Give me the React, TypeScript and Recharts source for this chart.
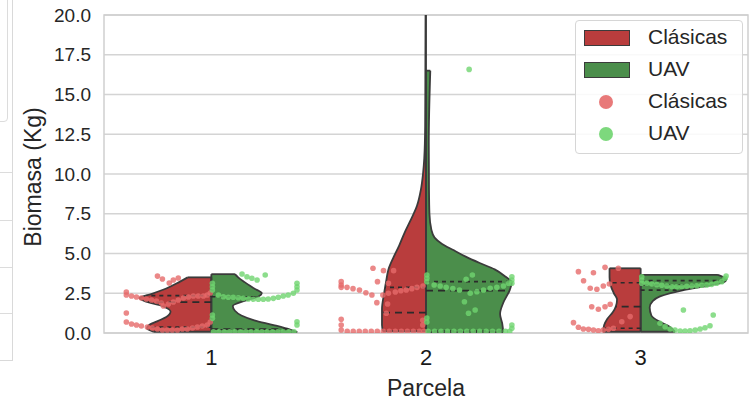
import React from 'react';
import {
  ComposedChart,
  Area,
  Scatter,
  XAxis,
  YAxis,
  CartesianGrid,
  ReferenceLine,
  ReferenceArea,
  Legend,
  Label
} from 'recharts';

const FONT = '"Liberation Sans", Arial, sans-serif';

// Categories and labels
const parcelas = [0, 1, 2];
const etiquetasParcela = ['1', '2', '3'];
const series = ['Clásicas', 'UAV'];
const ticksBiomasa = [0, 2.5, 5, 7.5, 10, 12.5, 15, 17.5, 20];

// Violin half profiles: [biomasa, half width in category units]
const densidadClasicas: number[][][] = [
  [[0.08, 0.27], [0.3, 0.3], [0.5, 0.29], [0.75, 0.25], [1.0, 0.21], [1.35, 0.19], [1.7, 0.23], [2.0, 0.31], [2.2, 0.335], [2.45, 0.28], [2.8, 0.21], [3.2, 0.15], [3.5, 0.11]],
  [[0.1, 0.2], [0.5, 0.205], [1.5, 0.205], [2.5, 0.195], [3.3, 0.185], [4.0, 0.175], [4.8, 0.15], [5.5, 0.125], [6.3, 0.1], [7.0, 0.075], [8.0, 0.042], [9.0, 0.024], [10, 0.014], [11, 0.008], [13, 0.004], [16, 0.003], [21, 0.002]],
  [[0.08, 0.175], [0.5, 0.17], [0.9, 0.155], [1.3, 0.13], [1.7, 0.115], [2.1, 0.11], [2.5, 0.125], [3.0, 0.14], [3.5, 0.145], [4.07, 0.145]]
];
const densidadUAV: number[][][] = [
  [[0.05, 0.4], [0.2, 0.37], [0.5, 0.29], [0.8, 0.2], [1.1, 0.14], [1.4, 0.11], [1.7, 0.1], [2.0, 0.15], [2.3, 0.22], [2.5, 0.235], [2.8, 0.2], [3.2, 0.155], [3.5, 0.125], [3.7, 0.11]],
  [[0.05, 0.36], [0.6, 0.355], [1.2, 0.345], [1.9, 0.36], [2.7, 0.39], [3.2, 0.4], [3.55, 0.37], [4.0, 0.32], [4.4, 0.25], [4.8, 0.185], [5.2, 0.13], [5.6, 0.075], [6.0, 0.04], [6.5, 0.025], [7.5, 0.016], [9, 0.014], [12, 0.013], [16.5, 0.02]],
  [[0.08, 0.16], [0.4, 0.135], [0.7, 0.09], [1.1, 0.05], [1.6, 0.042], [2.0, 0.056], [2.3, 0.09], [2.7, 0.2], [3.0, 0.325], [3.2, 0.39], [3.4, 0.4], [3.55, 0.38], [3.65, 0.36]]
];

// Q1, median, Q3
const cuartilesClasicas = [[0.37, 1.94, 2.35], [0.12, 1.28, 2.87], [0.3, 1.66, 3.16]];
const cuartilesUAV = [[0.2, 0.25, 2.28], [0.12, 2.66, 3.23], [2.7, 3.02, 3.29]];

// Swarm points: [x position, biomasa]
const puntosClasicas = [
  [-0.396, 2.58], [-0.396, 2.39], [-0.372, 2.33], [-0.349, 2.26], [-0.326, 2.2], [-0.303, 2.14], [-0.279, 2.08], [-0.256, 2.01], [-0.233, 1.89],
  [-0.223, 1.7], [-0.2, 1.82], [-0.177, 1.95], [-0.154, 2.08], [-0.13, 2.2], [-0.107, 2.26], [-0.084, 2.33], [-0.061, 2.33], [-0.037, 2.33], [-0.019, 2.39], [-0.005, 2.52],
  [-0.251, 3.58], [-0.228, 3.4], [-0.196, 3.14], [-0.177, 3.33], [-0.154, 3.46],
  [-0.396, 1.26], [-0.396, 0.69],
  [-0.372, 0.57], [-0.349, 0.5], [-0.326, 0.44], [-0.298, 0.38], [-0.275, 0.31], [-0.251, 0.25], [-0.228, 0.19], [-0.205, 0.19], [-0.182, 0.19], [-0.158, 0.19],
  [-0.135, 0.25], [-0.112, 0.25], [-0.088, 0.31], [-0.065, 0.38], [-0.042, 0.44], [-0.019, 0.5], [-0.005, 0.69],
  [0.753, 4.07], [0.802, 3.92], [0.849, 3.92], [0.774, 3.23], [0.825, 3.13],
  [0.605, 3.23], [0.605, 3.02], [0.605, 2.87],
  [0.632, 2.87], [0.66, 2.79], [0.69, 2.7], [0.72, 2.53], [0.748, 2.39],
  [0.799, 2.39], [0.825, 2.5], [0.857, 2.58], [0.883, 2.66], [0.908, 2.7], [0.934, 2.79], [0.958, 2.87], [0.986, 2.96],
  [0.771, 1.91], [0.821, 1.82], [0.815, 1.24],
  [0.605, 0.86], [0.605, 0.5], [0.605, 0.19],
  [0.633, 0.1], [0.661, 0.1], [0.689, 0.1], [0.717, 0.1], [0.745, 0.1], [0.773, 0.1], [0.801, 0.1], [0.829, 0.1], [0.857, 0.1], [0.885, 0.1],
  [0.913, 0.1], [0.941, 0.1], [0.969, 0.1], [0.99, 0.1], [0.985, 0.5], [0.985, 0.8],
  [1.71, 3.86], [1.78, 3.79], [1.834, 4.13], [1.896, 4.07], [1.734, 3.29], [1.765, 2.81], [1.796, 2.75], [1.826, 2.96], [1.854, 3.08],
  [1.772, 1.65], [1.803, 1.49], [1.834, 1.65], [1.858, 1.81],
  [1.687, 0.65], [1.71, 0.36], [1.733, 0.25], [1.757, 0.23], [1.78, 0.19], [1.803, 0.14], [1.826, 0.19], [1.85, 0.23], [1.873, 0.3], [1.912, 0.71], [1.951, 1.03]
];
const puntosUAV = [
  [0.143, 3.71], [0.166, 3.54], [0.189, 3.44], [0.213, 3.33], [0.251, 3.65],
  [0.033, 2.39], [0.056, 2.28], [0.079, 2.25], [0.102, 2.25], [0.126, 2.22], [0.149, 2.18], [0.172, 2.14], [0.196, 2.12], [0.219, 2.12], [0.242, 2.12],
  [0.265, 2.14], [0.289, 2.18], [0.312, 2.25], [0.335, 2.33], [0.358, 2.39], [0.382, 2.5],
  [0.399, 3.13], [0.399, 2.91], [0.399, 2.7],
  [0.005, 3.13], [0.005, 2.91], [0.005, 2.7], [0.005, 1.13], [0.005, 0.92],
  [0.01, 0.08], [0.035, 0.08], [0.06, 0.08], [0.085, 0.08], [0.11, 0.08], [0.135, 0.08], [0.16, 0.08], [0.185, 0.08],
  [0.21, 0.08], [0.235, 0.08], [0.26, 0.08], [0.285, 0.08], [0.31, 0.08], [0.335, 0.08], [0.36, 0.08], [0.385, 0.08],
  [0.399, 0.71], [0.399, 0.5],
  [1.201, 16.58],
  [1.004, 3.65], [1.004, 3.44], [1.004, 3.23],
  [1.038, 3.02], [1.066, 2.96], [1.094, 2.87], [1.125, 2.79], [1.156, 2.7], [1.206, 2.5], [1.237, 2.6], [1.268, 2.7], [1.299, 2.81], [1.33, 2.87], [1.361, 2.96], [1.384, 3.13],
  [1.4, 3.54], [1.4, 3.33], [1.4, 3.13],
  [1.187, 3.38], [1.216, 3.65], [1.179, 1.97], [1.198, 1.24], [1.229, 1.45],
  [1.01, 0.1], [1.04, 0.1], [1.07, 0.1], [1.1, 0.1], [1.13, 0.1], [1.16, 0.1], [1.19, 0.1], [1.22, 0.1], [1.25, 0.1], [1.28, 0.1], [1.31, 0.1], [1.34, 0.1], [1.37, 0.1], [1.39, 0.1],
  [1.4, 0.3], [1.4, 0.5], [1.004, 0.94], [1.004, 0.69],
  [2.005, 3.54], [2.005, 3.33], [2.005, 3.13],
  [2.028, 3.13], [2.052, 3.08], [2.075, 3.04], [2.098, 3.0], [2.122, 2.96], [2.145, 2.91], [2.168, 2.91], [2.191, 2.91], [2.215, 2.94],
  [2.238, 2.96], [2.261, 2.97], [2.284, 3.0], [2.308, 3.02], [2.331, 3.06], [2.354, 3.13], [2.378, 3.23], [2.393, 3.44], [2.398, 3.58],
  [2.199, 1.45], [2.338, 1.13],
  [2.09, 0.61], [2.114, 0.4], [2.137, 0.25], [2.16, 0.19], [2.184, 0.13], [2.207, 0.13], [2.23, 0.14], [2.254, 0.19], [2.277, 0.25], [2.3, 0.33], [2.323, 0.46]
];

const ROJO = '#b93d3d';
const VERDE = '#4b8e4b';
const PUNTO_ROJO = '#e66a6a';
const PUNTO_VERDE = '#6fd46f';
const BORDE = '#3b3b3b';

// half width of a violin at a given value
const anchoEn = (perfil: number[][], v: number) => {
  for (let k = 1; k < perfil.length; k++) {
    const [v0, w0] = perfil[k - 1];
    const [v1, w1] = perfil[k];
    if (v <= v1) {
      const t = v1 === v0 ? 0 : Math.max(0, (v - v0) / (v1 - v0));
      return w0 + (w1 - w0) * t;
    }
  }
  return perfil[perfil.length - 1][1];
};

// smooth outline of the density, plus the flat ends drawn as straight lines
const contorno = (centro: number, perfil: number[][], lado: number) =>
  perfil.map(([v, w]) => ({ x: centro + lado * w, y: v }));

const aPuntos = (lista: number[][]) => lista.map(([x, y]) => ({ x, y }));

const Punto = (color: string) => (props: any) => {
  const { cx, cy } = props;
  if (cx == null || cy == null) return null;
  return <circle cx={cx} cy={cy} r={2.8} fill={color} fillOpacity={0.8} />;
};

const Leyenda = () => {
  const filas = [
    { tipo: 'parche', color: ROJO, texto: series[0] },
    { tipo: 'parche', color: VERDE, texto: series[1] },
    { tipo: 'punto', color: PUNTO_ROJO, texto: series[0] },
    { tipo: 'punto', color: PUNTO_VERDE, texto: series[1] }
  ];
  return (
    <div
      style={{
        position: 'relative',
        boxSizing: 'border-box',
        width: 168,
        height: 134,
        border: '1px solid #d6d6d6',
        borderRadius: 4,
        background: 'rgba(255,255,255,0.85)',
        fontFamily: FONT,
        fontSize: 21,
        color: '#262626'
      }}
    >
      {filas.map((f, k) => (
        <React.Fragment key={k}>
          {f.tipo === 'parche' ? (
            <div
              style={{
                position: 'absolute',
                left: 8,
                top: 9 + k * 32,
                width: 46,
                height: 16,
                boxSizing: 'border-box',
                background: f.color,
                border: `1.5px solid ${BORDE}`
              }}
            />
          ) : (
            <div
              style={{
                position: 'absolute',
                left: 23,
                top: 10 + k * 32,
                width: 14,
                height: 14,
                borderRadius: 7,
                background: f.color,
                opacity: 0.9
              }}
            />
          )}
          <div style={{ position: 'absolute', left: 72, top: 4 + k * 32, lineHeight: '24px' }}>{f.texto}</div>
        </React.Fragment>
      ))}
    </div>
  );
};

const mitad = (i: number, perfil: number[][], lado: number, color: string, key: string) => {
  const abajo = perfil[0];
  const arriba = perfil[perfil.length - 1];
  return [
    <Area
      key={`a${key}`}
      data={contorno(i, perfil, lado)}
      dataKey="x"
      baseValue={i}
      type="monotone"
      fill={color}
      fillOpacity={1}
      stroke={BORDE}
      strokeWidth={1.8}
      dot={false}
      activeDot={false}
      isAnimationActive={false}
    />,
    <ReferenceLine key={`b${key}`} segment={[{ x: i, y: abajo[0] }, { x: i + lado * abajo[1], y: abajo[0] }]} stroke={BORDE} strokeWidth={1.8} />,
    <ReferenceLine key={`t${key}`} segment={[{ x: i, y: arriba[0] }, { x: i + lado * arriba[1], y: arriba[0] }]} stroke={BORDE} strokeWidth={1.8} />,
    <ReferenceLine key={`m${key}`} segment={[{ x: i, y: abajo[0] }, { x: i, y: Math.min(arriba[0], 20) }]} stroke={BORDE} strokeWidth={1.8} />
  ];
};

export default function App() {
  return (
    <div style={{ position: 'absolute', left: 0, top: 0, width: 751, height: 402, background: '#fff' }}>
      {/* remnants of a neighbouring figure at the left edge */}
      <div style={{ position: 'absolute', left: 0, top: 0, width: 12, height: 360, borderRight: '1.5px solid #d9d9d9', borderBottom: '1.5px solid #d9d9d9' }} />
      {[172, 220, 267, 313].map((t) => (
        <div key={t} style={{ position: 'absolute', left: 0, top: t, width: 12, height: 0, borderTop: '1.5px solid #dcdcdc' }} />
      ))}
      <div style={{ position: 'absolute', left: -6, top: -6, width: 12, height: 126, border: '1.5px solid #dcdcdc', borderRadius: 4 }} />

      <ComposedChart
        width={751}
        height={402}
        layout="vertical"
        margin={{ top: 15, right: 3, bottom: 0, left: 0 }}
        style={{ fontFamily: FONT }}
      >
        <CartesianGrid horizontal vertical={false} stroke="#d4d4d4" strokeWidth={1.4} />
        <XAxis
          type="number"
          dataKey="x"
          domain={[-0.5, 2.5]}
          allowDataOverflow
          ticks={parcelas}
          tickFormatter={(v: number) => etiquetasParcela[v] ?? ''}
          tick={{ fontSize: 22, fill: '#1a1a1a', fontFamily: FONT }}
          tickLine={false}
          axisLine={false}
          tickMargin={10}
          height={69}
          interval={0}
        >
          <Label
            content={(p: any) => {
              const vb = p.viewBox || { x: 104, width: 644 };
              return (
                <text x={vb.x + vb.width / 2} y={396} textAnchor="middle" fontSize={23} fill="#262626" fontFamily={FONT}>
                  Parcela
                </text>
              );
            }}
          />
        </XAxis>
        <YAxis
          type="number"
          dataKey="y"
          domain={[0, 20]}
          reversed
          allowDataOverflow
          ticks={ticksBiomasa}
          tickFormatter={(v: number) => v.toFixed(1)}
          tick={{ fontSize: 19, fill: '#262626', fontFamily: FONT }}
          tickLine={false}
          axisLine={false}
          tickMargin={7}
          width={104}
          interval={0}
        >
          <Label
            content={() => (
              <text transform="rotate(-90)" x={-177} y={41} textAnchor="middle" fontSize={23} fill="#262626" fontFamily={FONT}>
                Biomasa (Kg)
              </text>
            )}
          />
        </YAxis>

        <ReferenceArea x1={-0.5} x2={2.5} y1={0} y2={20} fill="none" stroke="#cfcfcf" strokeWidth={1.5} ifOverflow="visible" />

        {parcelas.map((i) => mitad(i, densidadClasicas[i], -1, ROJO, `c${i}`))}
        {parcelas.map((i) => mitad(i, densidadUAV[i], 1, VERDE, `u${i}`))}

        {parcelas.map((i) =>
          cuartilesClasicas[i].map((q, k) => (
            <ReferenceLine
              key={`qc${i}-${k}`}
              segment={[{ x: i, y: q }, { x: i - anchoEn(densidadClasicas[i], q), y: q }]}
              stroke="#2b2b2b"
              strokeWidth={1.7}
              strokeDasharray={k === 1 ? '7 5' : '4 4'}
            />
          ))
        )}
        {parcelas.map((i) =>
          cuartilesUAV[i].map((q, k) => (
            <ReferenceLine
              key={`qu${i}-${k}`}
              segment={[{ x: i, y: q }, { x: i + anchoEn(densidadUAV[i], q), y: q }]}
              stroke="#2b2b2b"
              strokeWidth={1.7}
              strokeDasharray={k === 1 ? '7 5' : '4 4'}
            />
          ))
        )}

        <Scatter name={series[0]} data={aPuntos(puntosClasicas)} shape={Punto(PUNTO_ROJO)} isAnimationActive={false} />
        <Scatter name={series[1]} data={aPuntos(puntosUAV)} shape={Punto(PUNTO_VERDE)} isAnimationActive={false} />

        <Legend
          layout="horizontal"
          align="center"
          verticalAlign="middle"
          wrapperStyle={{ left: 575, top: 20, width: 168, height: 134 }}
          content={() => <Leyenda />}
        />
      </ComposedChart>
    </div>
  );
}
